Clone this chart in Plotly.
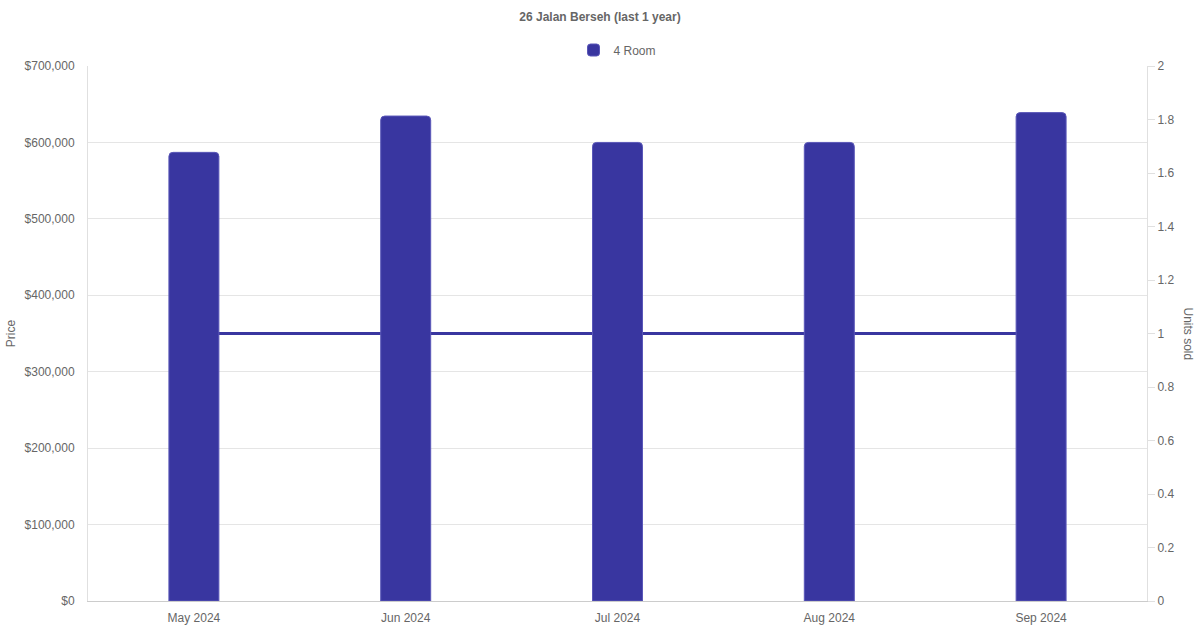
import plotly.graph_objects as go

months = ["May 2024", "Jun 2024", "Jul 2024", "Aug 2024", "Sep 2024"]
prices = [587000, 634500, 600000, 600000, 639000]
units_sold = [1, 1, 1, 1, 1]

color = "#3936a0"
font_family = "Liberation Sans, Arial, sans-serif"
grey = "#666666"

fig = go.Figure()

# Units sold line (primary y, drawn beneath the bars)
fig.add_trace(go.Scatter(
    x=months, y=units_sold, mode="lines", name="Units sold",
    line=dict(color=color, width=3), yaxis="y", showlegend=False,
))

# Price bars (overlay axis, drawn on top)
fig.add_trace(go.Bar(
    x=months, y=prices, name="4 Room", yaxis="y2",
    marker=dict(color=color, line=dict(color="#5a57b8", width=1)),
    width=0.236,
))

fig.update_layout(
    width=1200, height=630,
    margin=dict(l=88, r=53, t=66, b=29, autoexpand=False),
    paper_bgcolor="white", plot_bgcolor="white",
    font=dict(family=font_family, size=12, color=grey),
    barcornerradius=4,
    title=dict(text="<b>26 Jalan Berseh (last 1 year)</b>", x=0.5, xanchor="center",
               yref="container", y=1 - 17 / 630, yanchor="middle",
               font=dict(size=12, color=grey)),
    legend=dict(orientation="h", x=0.5, xanchor="center", y=1 + (66 - 50) / 535,
                yanchor="middle", font=dict(size=12, color=grey)),
    xaxis=dict(type="category", showgrid=False, showline=True, automargin=False,
               linecolor="#cccccc", linewidth=1, ticks="outside", ticklen=6,
               tickcolor="rgba(0,0,0,0)", tickfont=dict(size=12, color=grey),
               range=[-0.5, 4.5]),
    yaxis=dict(side="right", range=[0, 2], dtick=0.2, showgrid=False, automargin=False,
               showline=True, linecolor="#e0e0e0", linewidth=1,
               ticks="outside", ticklen=7, tickcolor="#e0e0e0",
               tickfont=dict(size=12, color=grey), zeroline=False),
    yaxis2=dict(overlaying="y", side="left", range=[0, 700000], dtick=100000,
                automargin=False,
                tickprefix="$", tickformat=",", showgrid=True, gridcolor="#e5e5e5",
                showline=True, linecolor="#e0e0e0", linewidth=1,
                ticks="outside", ticklen=10, tickcolor="rgba(0,0,0,0)",
                tickfont=dict(size=12, color=grey), zeroline=False,
                title=dict(text="Price", font=dict(size=12, color=grey), standoff=6)),
    annotations=[dict(text="Units sold", xref="paper", yref="paper",
                      x=1 + (1188 - 1147) / 1059, y=0.5, xanchor="center",
                      yanchor="middle", showarrow=False, textangle=90,
                      font=dict(size=12, color=grey))],
)

fig.write_html(
    "out.html",
    config={"displayModeBar": False},
    post_script="document.body.style.margin='0';document.body.style.overflow='hidden';",
)
